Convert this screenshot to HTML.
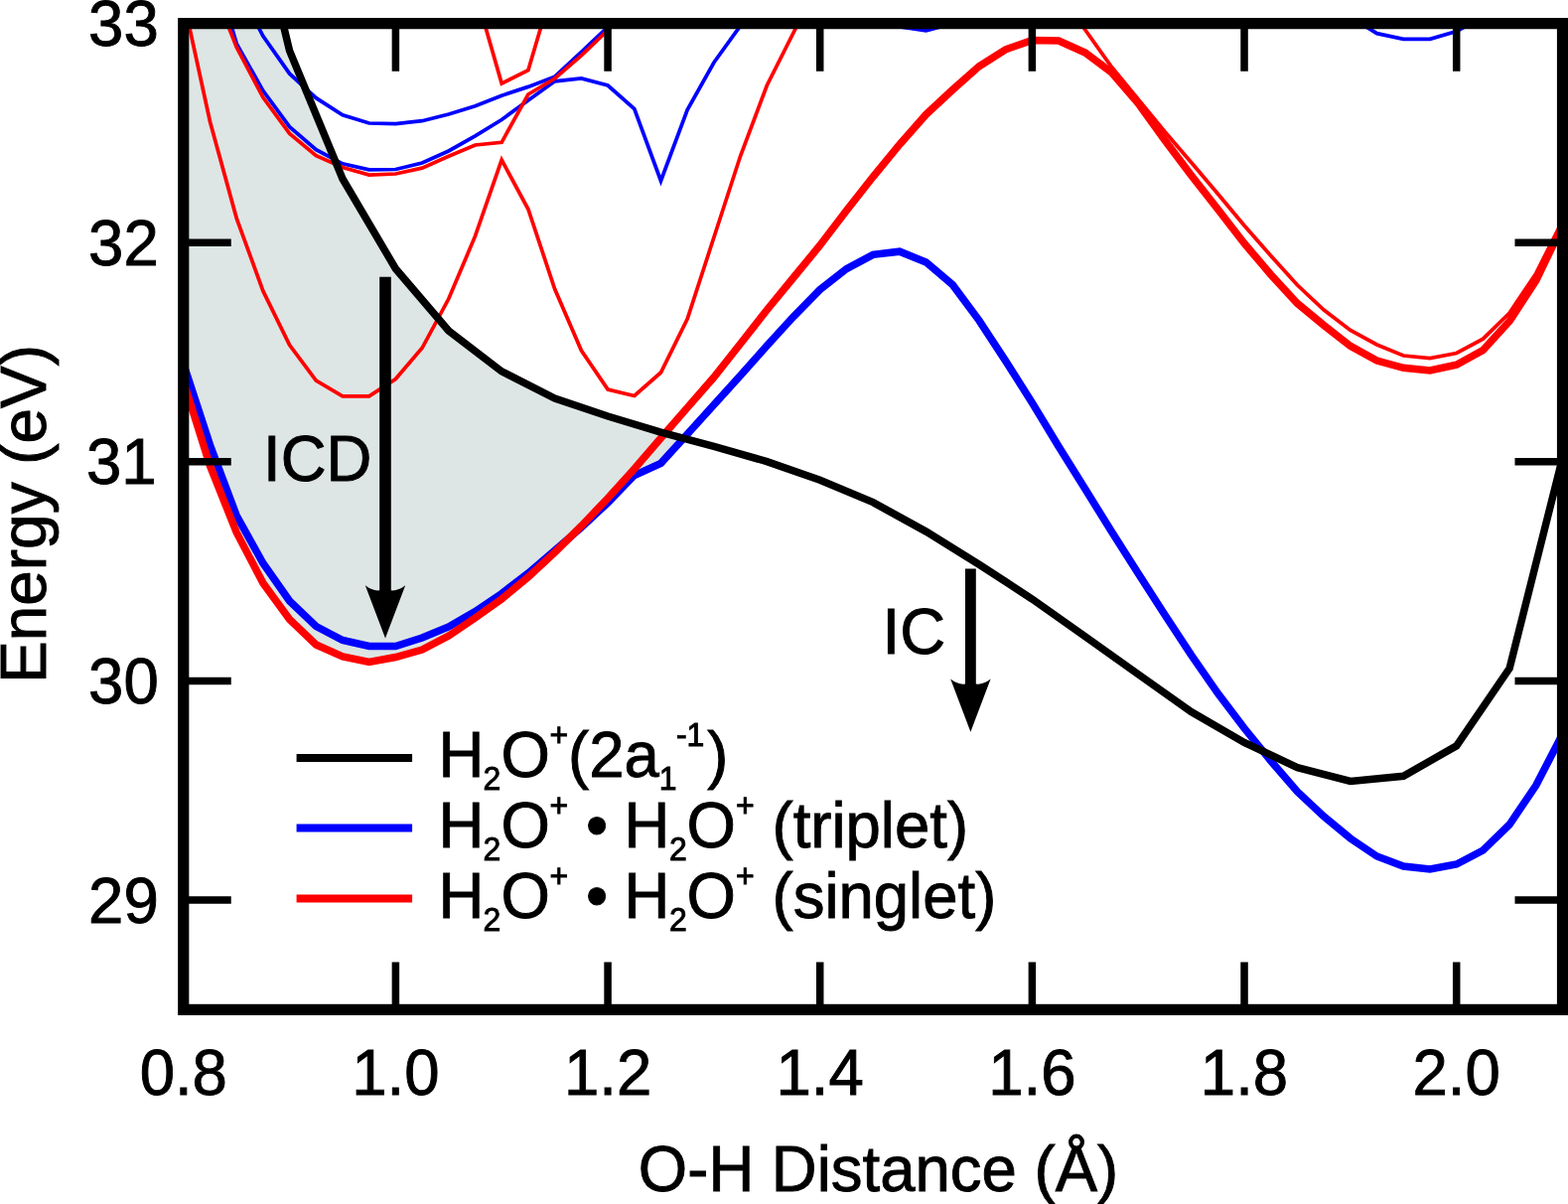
<!DOCTYPE html><html><head><meta charset="utf-8"><title>Potential energy curves</title><style>html,body{margin:0;padding:0;background:#fff;}svg{display:block;}</style></head><body><svg width="1579" height="1212" viewBox="0 0 1579 1212">
<defs><clipPath id="pa"><rect x="184.75" y="23.65" width="1388.75" height="992.75"/></clipPath></defs>
<rect width="1579" height="1212" fill="#fff"/>
<g clip-path="url(#pa)">
<polygon points="184.8,23.6 285.0,23.6 291.6,51.2 345.0,180.0 398.4,270.5 451.8,333.0 505.2,373.9 558.7,401.0 612.1,419.0 665.5,435.1 688.5,441.3 688.5,441.1 687.5,442.1 686.5,443.2 685.5,444.3 684.5,445.4 683.5,446.5 682.5,447.6 681.5,448.7 680.5,449.8 679.5,450.9 678.5,452.0 677.5,453.1 676.5,454.2 675.5,455.3 674.5,456.4 673.5,457.5 672.5,458.6 671.5,459.7 670.5,460.8 669.5,461.9 668.5,463.0 667.5,464.1 666.5,465.2 665.5,466.3 664.5,466.7 663.5,467.2 662.5,467.7 661.5,468.1 660.5,468.6 659.5,469.0 658.5,469.5 657.5,469.9 656.5,470.4 655.5,470.9 654.5,471.3 653.5,471.8 652.5,472.2 651.5,472.7 650.5,473.1 649.5,473.6 648.5,474.1 647.5,474.5 646.5,475.0 645.5,475.4 644.5,475.9 643.5,476.3 642.5,476.8 641.5,477.3 640.5,477.7 639.5,478.2 638.5,478.8 637.5,479.8 636.5,480.8 635.5,481.9 634.5,482.9 633.5,483.9 632.5,485.0 631.5,486.0 630.5,487.0 629.5,488.1 628.5,489.1 627.5,490.1 626.5,491.1 625.5,492.2 624.5,493.2 623.5,494.2 622.5,495.3 621.5,496.3 620.5,497.3 619.5,498.3 618.5,499.4 617.5,500.4 616.5,501.4 615.5,502.5 614.5,503.5 613.5,504.5 612.5,505.6 611.5,506.5 610.5,507.5 609.5,508.4 608.5,509.3 607.5,510.3 606.5,511.2 605.5,512.1 604.5,513.1 603.5,514.0 602.5,515.0 601.5,515.9 600.5,516.8 599.5,517.8 598.5,518.7 597.5,519.6 596.5,520.6 595.5,521.5 594.5,522.4 593.5,523.4 592.5,524.3 591.5,525.3 590.5,526.2 589.5,527.1 588.5,528.1 587.5,529.0 586.5,529.9 585.5,530.9 584.5,531.7 583.5,532.6 582.5,533.5 581.5,534.3 580.5,535.2 579.5,536.0 578.5,536.9 577.5,537.8 576.5,538.6 575.5,539.5 574.5,540.4 573.5,541.3 572.5,542.3 571.5,543.3 570.5,544.2 569.5,545.2 568.5,546.2 567.5,547.2 566.5,548.2 565.5,549.2 564.5,550.2 563.5,551.2 562.5,552.2 561.5,553.2 560.5,554.2 559.5,555.2 558.5,556.1 557.5,557.1 556.5,558.0 555.5,559.0 554.5,559.9 553.5,560.8 552.5,561.8 551.5,562.7 550.5,563.6 549.5,564.6 548.5,565.5 547.5,566.4 546.5,567.4 545.5,568.3 544.5,569.3 543.5,570.2 542.5,571.1 541.5,572.1 540.5,573.0 539.5,573.9 538.5,574.9 537.5,575.8 536.5,576.7 535.5,577.7 534.5,578.6 533.5,579.5 532.5,580.5 531.5,581.4 530.5,582.2 529.5,583.0 528.5,583.8 527.5,584.7 526.5,585.5 525.5,586.3 524.5,587.1 523.5,588.0 522.5,588.8 521.5,589.6 520.5,590.4 519.5,591.3 518.5,592.1 517.5,592.9 516.5,593.7 515.5,594.5 514.5,595.4 513.5,596.2 512.5,597.0 511.5,597.8 510.5,598.7 509.5,599.5 508.5,600.3 507.5,601.1 506.5,602.0 505.5,602.8 504.5,603.5 503.5,604.2 502.5,604.9 501.5,605.7 500.5,606.4 499.5,607.1 498.5,607.8 497.5,608.5 496.5,609.2 495.5,609.9 494.5,610.6 493.5,611.4 492.5,612.1 491.5,612.8 490.5,613.5 489.5,614.2 488.5,614.9 487.5,615.6 486.5,616.3 485.5,617.0 484.5,617.8 483.5,618.5 482.5,619.2 481.5,619.9 480.5,620.6 479.5,621.3 478.5,622.0 477.5,622.7 476.5,623.4 475.5,624.0 474.5,624.7 473.5,625.4 472.5,626.1 471.5,626.7 470.5,627.4 469.5,628.1 468.5,628.8 467.5,629.4 466.5,630.1 465.5,630.8 464.5,631.5 463.5,632.1 462.5,632.8 461.5,633.5 460.5,634.2 459.5,634.8 458.5,635.5 457.5,636.2 456.5,636.8 455.5,637.5 454.5,638.2 453.5,638.9 452.5,639.5 451.5,640.2 450.5,640.7 449.5,641.2 448.5,641.7 447.5,642.3 446.5,642.8 445.5,643.3 444.5,643.8 443.5,644.4 442.5,644.9 441.5,645.4 440.5,645.9 439.5,646.5 438.5,647.0 437.5,647.5 436.5,648.0 435.5,648.6 434.5,649.1 433.5,649.6 432.5,650.1 431.5,650.7 430.5,651.2 429.5,651.7 428.5,652.2 427.5,652.8 426.5,653.3 425.5,653.8 424.5,654.2 423.5,654.5 422.5,654.7 421.5,655.0 420.5,655.3 419.5,655.6 418.5,655.9 417.5,656.1 416.5,656.4 415.5,656.7 414.5,657.0 413.5,657.3 412.5,657.5 411.5,657.8 410.5,658.1 409.5,658.4 408.5,658.7 407.5,658.9 406.5,659.2 405.5,659.5 404.5,659.8 403.5,660.1 402.5,660.4 401.5,660.6 400.5,660.9 399.5,661.2 398.5,661.5 397.5,661.7 396.5,661.9 395.5,662.0 394.5,662.2 393.5,662.4 392.5,662.6 391.5,662.8 390.5,663.0 389.5,663.2 388.5,663.4 387.5,663.5 386.5,663.7 385.5,663.9 384.5,664.1 383.5,664.3 382.5,664.5 381.5,664.7 380.5,664.9 379.5,665.0 378.5,665.2 377.5,665.4 376.5,665.6 375.5,665.8 374.5,666.0 373.5,666.2 372.5,666.4 371.5,666.5 370.5,666.3 369.5,666.0 368.5,665.8 367.5,665.6 366.5,665.4 365.5,665.2 364.5,665.0 363.5,664.8 362.5,664.6 361.5,664.4 360.5,664.2 359.5,664.0 358.5,663.8 357.5,663.6 356.5,663.4 355.5,663.2 354.5,663.0 353.5,662.8 352.5,662.5 351.5,662.3 350.5,662.1 349.5,661.9 348.5,661.7 347.5,661.5 346.5,661.3 345.5,661.1 344.5,660.8 343.5,660.3 342.5,659.9 341.5,659.4 340.5,659.0 339.5,658.5 338.5,658.1 337.5,657.6 336.5,657.2 335.5,656.7 334.5,656.3 333.5,655.8 332.5,655.4 331.5,654.9 330.5,654.5 329.5,654.0 328.5,653.6 327.5,653.1 326.5,652.7 325.5,652.2 324.5,651.8 323.5,651.3 322.5,650.9 321.5,650.4 320.5,650.0 319.5,649.5 318.5,649.1 317.5,648.2 316.5,647.3 315.5,646.3 314.5,645.4 313.5,644.4 312.5,643.5 311.5,642.5 310.5,641.6 309.5,640.6 308.5,639.7 307.5,638.7 306.5,637.7 305.5,636.8 304.5,635.8 303.5,634.9 302.5,633.9 301.5,633.0 300.5,632.0 299.5,631.1 298.5,630.1 297.5,629.2 296.5,628.2 295.5,627.2 294.5,626.3 293.5,625.3 292.5,624.4 291.5,623.4 290.5,622.0 289.5,620.7 288.5,619.3 287.5,617.9 286.5,616.6 285.5,615.2 284.5,613.8 283.5,612.5 282.5,611.1 281.5,609.7 280.5,608.4 279.5,607.0 278.5,605.6 277.5,604.3 276.5,602.9 275.5,601.5 274.5,600.2 273.5,598.8 272.5,597.4 271.5,596.1 270.5,594.7 269.5,593.3 268.5,592.0 267.5,590.6 266.5,589.2 265.5,587.9 264.5,586.3 263.5,584.4 262.5,582.5 261.5,580.6 260.5,578.7 259.5,576.7 258.5,574.8 257.5,572.9 256.5,571.0 255.5,569.1 254.5,567.2 253.5,565.3 252.5,563.4 251.5,561.5 250.5,559.6 249.5,557.6 248.5,555.7 247.5,553.8 246.5,551.9 245.5,550.0 244.5,548.1 243.5,546.2 242.5,544.3 241.5,542.4 240.5,540.5 239.5,538.5 238.5,536.6 237.5,534.3 236.5,531.8 235.5,529.3 234.5,526.8 233.5,524.3 232.5,521.8 231.5,519.3 230.5,516.8 229.5,514.3 228.5,511.8 227.5,509.2 226.5,506.7 225.5,504.2 224.5,501.7 223.5,499.2 222.5,496.7 221.5,494.2 220.5,491.7 219.5,489.2 218.5,486.7 217.5,484.2 216.5,481.6 215.5,479.1 214.5,476.6 213.5,474.1 212.5,471.6 211.5,469.1 210.5,466.0 209.5,462.8 208.5,459.6 207.5,456.4 206.5,453.2 205.5,450.0 204.5,446.9 203.5,443.7 202.5,440.5 201.5,437.3 200.5,434.1 199.5,430.9 198.5,427.8 197.5,424.6 196.5,421.4 195.5,418.2 194.5,415.0 193.5,411.8 192.5,408.7 191.5,405.5 190.5,402.3 189.5,399.1 188.5,395.9 187.5,392.8 186.5,389.6 185.5,386.4 184.8,384.0" fill="#dde6e4"/>
<polyline points="238.2,-15.0 264.9,36.3 291.6,74.2 318.3,98.7 345.0,115.8 371.7,124.0 398.4,124.7 425.1,121.7 451.8,115.0 478.5,106.8 505.2,96.2 531.9,87.4 558.7,77.2 585.4,52.5 612.1,27.0 638.8,2.0" fill="none" stroke="#0000ff" stroke-width="3.75" stroke-linejoin="miter" stroke-miterlimit="10"/>
<polyline points="211.5,-47.0 238.2,43.8 264.9,91.3 291.6,127.7 318.3,150.7 345.0,164.8 371.7,170.8 398.4,170.5 425.1,164.0 451.8,152.0 478.5,136.8 505.2,120.5 531.9,100.9 558.7,81.8 585.4,78.9 612.1,86.0 638.8,109.5 665.5,182.0 692.2,110.5 718.9,63.0 745.6,26.0 772.3,-5.0" fill="none" stroke="#0000ff" stroke-width="3.75" stroke-linejoin="miter" stroke-miterlimit="10"/>
<polyline points="879.1,22.0 905.9,26.9 932.6,30.9 959.3,23.7 986.0,15.0" fill="none" stroke="#0000ff" stroke-width="3.75" stroke-linejoin="miter" stroke-miterlimit="10"/>
<polyline points="1333.2,5.0 1359.9,17.0 1386.6,33.7 1413.3,39.3 1440.0,39.3 1466.7,31.5 1493.4,17.0 1520.1,5.0" fill="none" stroke="#0000ff" stroke-width="3.75" stroke-linejoin="miter" stroke-miterlimit="10"/>
<polyline points="184.8,0.0 211.5,122.5 238.2,219.6 264.9,292.9 291.6,347.3 318.3,383.0 345.0,398.8 371.7,398.8 398.4,381.5 425.1,350.3 451.8,300.8 478.5,237.7 505.2,161.0 531.9,210.5 558.7,291.0 585.4,352.8 612.1,392.0 638.8,398.5 665.5,375.0 692.2,321.0 718.9,239.0 745.6,157.0 772.3,86.0 799.0,33.0 825.7,-20.0" fill="none" stroke="#ff0000" stroke-width="3.75" stroke-linejoin="miter" stroke-miterlimit="10"/>
<polyline points="478.5,-9.0 505.2,84.1 531.9,70.8 558.7,-20.0" fill="none" stroke="#ff0000" stroke-width="3.75" stroke-linejoin="miter" stroke-miterlimit="10"/>
<polyline points="211.5,-20.7 238.2,47.5 264.9,98.0 291.6,134.4 318.3,156.7 345.0,168.5 371.7,176.0 398.4,175.0 425.1,169.2 451.8,157.3 478.5,146.0 505.2,143.3 531.9,95.0 558.7,79.0 585.4,55.8 612.1,30.4 638.8,5.0" fill="none" stroke="#ff0000" stroke-width="3.75" stroke-linejoin="miter" stroke-miterlimit="10"/>
<polyline points="1066.1,-10.0 1092.8,30.0 1119.5,67.5 1146.2,100.0 1172.9,132.5 1199.6,163.5 1226.3,195.0 1253.0,227.0 1279.8,257.5 1306.5,287.0 1333.2,312.0 1359.9,332.5 1386.6,347.0 1413.3,358.0 1440.0,360.5 1466.7,355.5 1493.4,341.1 1520.1,315.0 1546.8,275.2 1573.5,222.0" fill="none" stroke="#ff0000" stroke-width="3.75" stroke-linejoin="miter" stroke-miterlimit="10"/>
<polyline points="184.8,366.5 211.5,448.0 238.2,519.0 264.9,567.0 291.6,605.0 318.3,630.5 345.0,644.5 371.7,650.5 398.4,650.5 425.1,642.0 451.8,631.0 478.5,615.5 505.2,597.5 531.9,577.0 558.7,554.0 585.4,531.0 612.1,506.0 638.8,478.5 665.5,466.3 692.2,437.0 718.9,407.5 745.6,378.0 772.3,348.0 799.0,318.8 825.7,291.6 852.4,270.6 879.1,256.4 905.9,253.2 932.6,263.9 959.3,286.7 986.0,322.6 1012.7,363.4 1039.4,405.5 1066.1,449.5 1092.8,492.3 1119.5,535.3 1146.2,577.3 1172.9,618.7 1199.6,659.3 1226.3,697.8 1253.0,733.0 1279.8,766.0 1306.5,797.0 1333.2,822.0 1359.9,844.0 1386.6,862.0 1413.3,872.0 1440.0,875.0 1466.7,870.0 1493.4,856.0 1520.1,830.0 1546.8,790.5 1573.5,739.0" fill="none" stroke="#0000ff" stroke-width="7.5" stroke-linejoin="miter" stroke-miterlimit="10"/>
<polyline points="184.8,384.0 211.5,469.0 238.2,536.0 264.9,587.0 291.6,623.5 318.3,649.0 345.0,661.0 371.7,666.5 398.4,661.5 425.1,654.0 451.8,640.0 478.5,622.0 505.2,603.0 531.9,581.0 558.7,556.0 585.4,529.5 612.1,501.5 638.8,472.0 665.5,441.0 692.2,410.4 718.9,379.8 745.6,346.0 772.3,312.0 799.0,279.5 825.7,247.0 852.4,212.0 879.1,178.0 905.9,145.4 932.6,115.2 959.3,90.4 986.0,66.8 1012.7,49.8 1039.4,40.5 1066.1,41.0 1092.8,53.0 1119.5,73.0 1146.2,104.0 1172.9,141.0 1199.6,176.5 1226.3,210.5 1253.0,245.0 1279.8,276.5 1306.5,305.5 1333.2,327.5 1359.9,348.4 1386.6,363.0 1413.3,370.3 1440.0,373.0 1466.7,367.2 1493.4,352.6 1520.1,323.3 1546.8,282.5 1573.5,227.0" fill="none" stroke="#ff0000" stroke-width="7.5" stroke-linejoin="miter" stroke-miterlimit="10"/>
<polyline points="238.2,-170.0 291.6,51.2 345.0,180.0 398.4,270.5 451.8,333.0 505.2,373.9 558.7,401.0 612.1,419.0 665.5,435.1 718.9,449.4 772.3,464.6 825.7,483.3 879.1,505.6 932.6,535.1 986.0,568.3 1039.4,603.0 1092.8,640.8 1146.2,678.7 1199.6,716.6 1253.0,747.5 1306.5,772.6 1359.9,786.5 1413.3,781.3 1466.7,750.8 1520.1,672.8 1573.5,461.0" fill="none" stroke="#000000" stroke-width="7.5" stroke-linejoin="miter" stroke-miterlimit="10"/>
</g>
<path d="M382.2,278.8 L393.8,278.8 L393.8,594.3 Q400.5,595.3 408.2,589.3 L388.0,642.6 L367.8,589.3 Q375.5,595.3 382.2,594.3 Z" fill="#000"/>
<path d="M972.0,572.6 L982.8,572.6 L982.8,688.5 Q989.9,689.5 997.6,683.5 L977.4,736.8 L957.2,683.5 Q964.9,689.5 972.0,688.5 Z" fill="#000"/>
<rect x="184.75" y="23.65" width="1388.75" height="992.75" fill="none" stroke="#000" stroke-width="11.2"/>
<path d="M398.41,1016.4V968.4M398.41,23.65V71.65M612.07,1016.4V968.4M612.07,23.65V71.65M825.73,1016.4V968.4M825.73,23.65V71.65M1039.39,1016.4V968.4M1039.39,23.65V71.65M1253.05,1016.4V968.4M1253.05,23.65V71.65M1466.71,1016.4V968.4M1466.71,23.65V71.65M184.75,906.05H232.75M1573.5,906.05H1525.5M184.75,685.45H232.75M1573.5,685.45H1525.5M184.75,464.85H232.75M1573.5,464.85H1525.5M184.75,244.25H232.75M1573.5,244.25H1525.5" stroke="#000" stroke-width="7.5" fill="none"/>
<g font-family='"Liberation Sans", Arial, Helvetica, sans-serif' fill="#000" stroke="#000" stroke-width="0.9">
<text x="184.8" y="1080.69" transform="scale(1,1.02)" font-size="63.5" text-anchor="middle" >0.8</text>
<text x="398.4" y="1080.69" transform="scale(1,1.02)" font-size="63.5" text-anchor="middle" >1.0</text>
<text x="612.1" y="1080.69" transform="scale(1,1.02)" font-size="63.5" text-anchor="middle" >1.2</text>
<text x="825.7" y="1080.69" transform="scale(1,1.02)" font-size="63.5" text-anchor="middle" >1.4</text>
<text x="1039.4" y="1080.69" transform="scale(1,1.02)" font-size="63.5" text-anchor="middle" >1.6</text>
<text x="1253.0" y="1080.69" transform="scale(1,1.02)" font-size="63.5" text-anchor="middle" >1.8</text>
<text x="1466.7" y="1080.69" transform="scale(1,1.02)" font-size="63.5" text-anchor="middle" >2.0</text>
<text x="159.7" y="910.44" transform="scale(1,1.02)" font-size="63.5" text-anchor="end" >29</text>
<text x="159.7" y="694.17" transform="scale(1,1.02)" font-size="63.5" text-anchor="end" >30</text>
<text x="157.5" y="477.89" transform="scale(1,1.02)" font-size="63.5" text-anchor="end" >31</text>
<text x="159.7" y="261.62" transform="scale(1,1.02)" font-size="63.5" text-anchor="end" >32</text>
<text x="159.7" y="45.34" transform="scale(1,1.02)" font-size="63.5" text-anchor="end" >33</text>
<text x="884.5" y="1175.69" transform="scale(1,1.02)" font-size="63.5" text-anchor="middle" >O-H Distance (Å)</text>
<text transform="translate(46.2,517.4) rotate(-90) scale(1.006,1.013)" font-size="63.5" text-anchor="middle">Energy (eV)</text>
<text x="265.0" y="474.22" transform="scale(1,1.02)" font-size="63.5" text-anchor="start" >ICD</text>
<text x="888.5" y="645.20" transform="scale(1,1.02)" font-size="63.5" text-anchor="start" >IC</text>
<path d="M298.6,763H415.1" stroke="#000" stroke-width="8"/>
<path d="M298.6,833.6H415.1" stroke="#0000ff" stroke-width="8"/>
<path d="M298.6,904.6H415.1" stroke="#ff0000" stroke-width="8"/>
<text x="441.5" y="766.67" transform="scale(1,1.02)" font-size="63.5">H</text>
<text x="486.4" y="779.22" transform="scale(1,1.02)" font-size="32">2</text>
<text x="504.5" y="766.67" transform="scale(1,1.02)" font-size="63.5">O</text>
<text x="553.6" y="735.88" transform="scale(1,1.02)" font-size="32">+</text>
<text x="572.0" y="766.67" transform="scale(1,1.02)" font-size="63.5">(2a</text>
<text x="663.7" y="779.02" transform="scale(1,1.02)" font-size="32">1</text>
<text x="680.9" y="735.98" transform="scale(1,1.02)" font-size="32">-1</text>
<text x="712.3" y="766.67" transform="scale(1,1.02)" font-size="63.5">)</text>
<text x="441.5" y="836.27" transform="scale(1,1.02)" font-size="63.5">H</text>
<text x="486.4" y="848.82" transform="scale(1,1.02)" font-size="32">2</text>
<text x="504.5" y="836.27" transform="scale(1,1.02)" font-size="63.5">O</text>
<text x="553.6" y="805.49" transform="scale(1,1.02)" font-size="32">+</text>
<text x="589.9" y="836.27" transform="scale(1,1.02)" font-size="63.5">•</text>
<text x="628.5" y="836.27" transform="scale(1,1.02)" font-size="63.5">H</text>
<text x="674.1" y="848.82" transform="scale(1,1.02)" font-size="32">2</text>
<text x="691.6" y="836.27" transform="scale(1,1.02)" font-size="63.5">O</text>
<text x="741.1" y="805.49" transform="scale(1,1.02)" font-size="32">+</text>
<text x="777.5" y="836.27" transform="scale(1,1.02)" font-size="63.5">(triplet)</text>
<text x="441.5" y="906.18" transform="scale(1,1.02)" font-size="63.5">H</text>
<text x="486.4" y="918.73" transform="scale(1,1.02)" font-size="32">2</text>
<text x="504.5" y="906.18" transform="scale(1,1.02)" font-size="63.5">O</text>
<text x="553.6" y="875.39" transform="scale(1,1.02)" font-size="32">+</text>
<text x="589.9" y="906.18" transform="scale(1,1.02)" font-size="63.5">•</text>
<text x="628.5" y="906.18" transform="scale(1,1.02)" font-size="63.5">H</text>
<text x="674.1" y="918.73" transform="scale(1,1.02)" font-size="32">2</text>
<text x="691.6" y="906.18" transform="scale(1,1.02)" font-size="63.5">O</text>
<text x="741.1" y="875.39" transform="scale(1,1.02)" font-size="32">+</text>
<text x="777.5" y="906.18" transform="scale(1,1.02)" font-size="63.5">(singlet)</text>
</g>
</svg></body></html>
